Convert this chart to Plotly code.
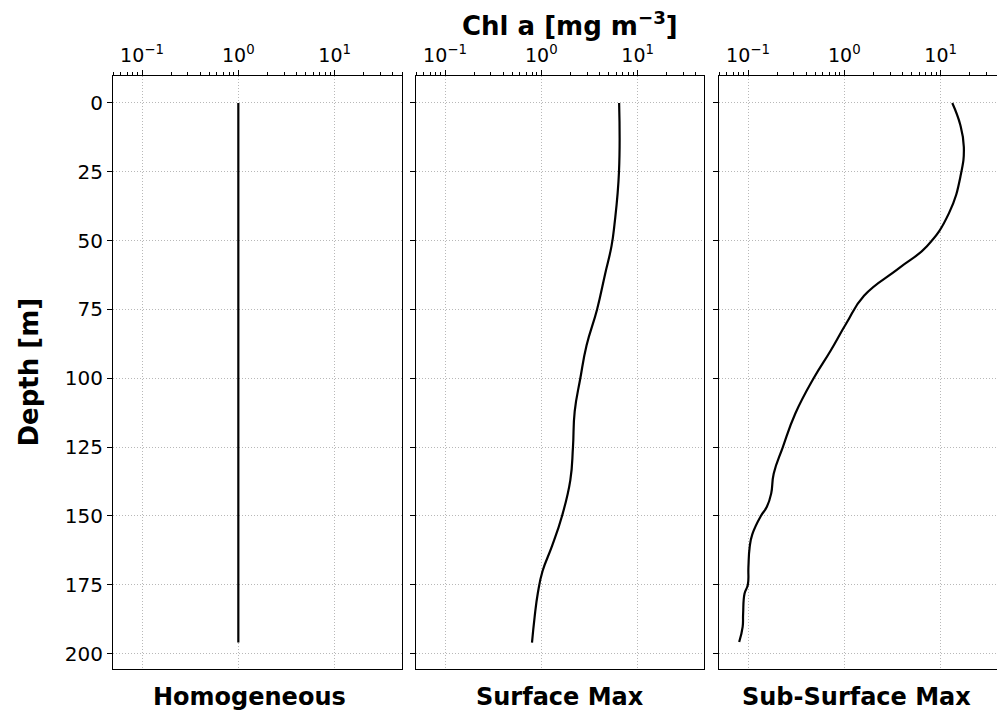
import numpy as np
import plotly.graph_objects as go

# Chlorophyll-a profiles (mg m^-3) against depth (m)
depth_homog = [0, 196]
chl_homog = [1.0, 1.0]

depth_surface = [0, 25, 44, 52, 62, 75, 88, 100, 112, 125, 137,
                 150, 161, 170, 178, 187, 196]
chl_surface = [6.42, 6.4, 5.75, 5.35, 4.6, 3.79, 2.95, 2.54, 2.22, 2.13, 2.0,
               1.64, 1.29, 1.03, 0.92, 0.85, 0.80]

depth_subsurface = [0, 8, 16, 26, 40, 52, 60, 70, 80, 90, 100, 112.8, 125,
                    134.6, 141.9, 146.7, 150, 156.6, 161.4, 168.6, 175, 178.3,
                    185.6, 190.3, 195.8]
chl_subsurface = [13.2, 16.0, 17.4, 16.2, 12.2, 7.2, 3.7, 1.6, 1.05, 0.72, 0.48,
                  0.31, 0.23, 0.185, 0.174, 0.157, 0.136, 0.111, 0.104, 0.101,
                  0.0996, 0.092, 0.089, 0.088, 0.081]

panel_titles = ["Homogeneous", "Surface Max", "Sub-Surface Max"]
x_tickvals = [0.1, 1, 10]
x_ticktext = ["10<sup>\u22121</sup>", "10<sup>0</sup>", "10<sup>1</sup>"]
y_tickvals = [0, 25, 50, 75, 100, 125, 150, 175, 200]

W, H = 997, 714
FONT = "DejaVu Sans"
GRID = dict(showgrid=True, gridcolor="#b8b8b8", griddash="1px,2px", gridwidth=0.8)

profiles = [(chl_homog, depth_homog), (chl_surface, depth_surface),
            (chl_subsurface, depth_subsurface)]

# panel extents in pixels; the last panel runs off the right edge
panel_px = [(113, 402), (416, 704), (719, 997)]
x_log_range = [np.log10(0.05), np.log10(50)]
full_width = 289.0
minor_vals = [m * 10.0 ** e for e in (-2, -1, 0, 1) for m in range(2, 10)]

TOP, BOTTOM = 76, 45
plot_h = H - TOP - BOTTOM

fig = go.Figure()
layout = dict(
    width=W, height=H,
    margin=dict(l=0, r=0, t=TOP, b=BOTTOM),
    plot_bgcolor="white", paper_bgcolor="white",
    showlegend=False,
    font=dict(family=FONT, size=20, color="black"),
    hovermode=False,
)

for i, ((xv, yv), (p0, p1)) in enumerate(zip(profiles, panel_px)):
    n = "" if i == 0 else str(i + 1)
    fig.add_trace(go.Scatter(x=xv, y=yv, mode="lines",
                             line=dict(color="black", width=2.2, shape="spline", smoothing=1.3),
                             xaxis="x" + n, yaxis="y" + n))
    span = x_log_range[1] - x_log_range[0]
    right = x_log_range[0] + span * (p1 - p0) / full_width
    layout["xaxis" + n] = dict(
        domain=[p0 / W, p1 / W], type="log", side="top", anchor="y" + n,
        range=[x_log_range[0], right],
        tickvals=x_tickvals, ticktext=x_ticktext,
        ticks="outside", ticklen=5, tickwidth=1, tickcolor="black",
        minor=dict(tickvals=minor_vals, ticks="outside", ticklen=3, tickwidth=0.8,
                   tickcolor="black", showgrid=False),
        showline=True, linecolor="black", linewidth=1, mirror=True,
        tickfont=dict(size=19), zeroline=False, **GRID,
    )
    layout["yaxis" + n] = dict(
        domain=[0, 1], anchor="x" + n,
        range=[205.6, -9.8],
        tickvals=y_tickvals, showticklabels=(i == 0),
        ticks="outside", ticklen=5, tickwidth=1, tickcolor="black",
        showline=True, linecolor="black", linewidth=1, mirror=(i < 2),
        tickfont=dict(size=20), zeroline=False, **GRID,
    )

annotations = [
    dict(text="<b>Chl a [mg m<sup>\u22123</sup>]</b>", x=570 / W, xanchor="center",
         y=1 + (TOP - 24) / plot_h, yanchor="middle", xref="paper", yref="paper",
         showarrow=False, font=dict(size=26, family=FONT)),
    dict(text="<b>Depth [m]</b>", x=28 / W, xanchor="center", y=0.5, yanchor="middle",
         xref="paper", yref="paper", showarrow=False, textangle=-90,
         font=dict(size=26, family=FONT)),
]
for title, cx in zip(panel_titles, [249.5, 559.5, 856]):
    annotations.append(dict(text="<b>" + title + "</b>", x=cx / W, xanchor="center",
                            y=-(697 - (H - BOTTOM)) / plot_h, yanchor="middle",
                            xref="paper", yref="paper", showarrow=False,
                            font=dict(size=24, family=FONT)))
layout["annotations"] = annotations
fig.update_layout(**layout)

fig.write_html("out.html")
